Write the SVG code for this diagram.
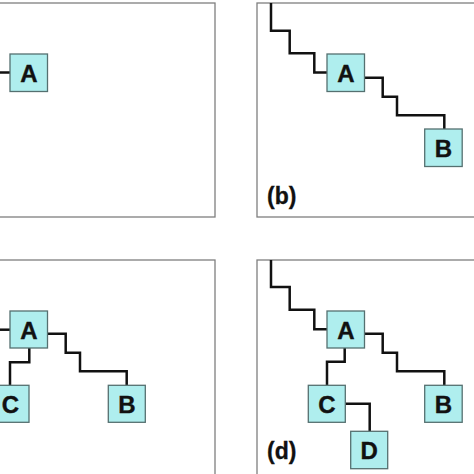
<svg xmlns="http://www.w3.org/2000/svg" width="474" height="474" viewBox="0 0 474 474">
<style>
.frame{fill:#ffffff;stroke:#7f7f7f;stroke-width:1.3}
.node rect{fill:#afeeee;stroke:#557070;stroke-width:1.3}
.node text{font-family:"Liberation Sans",Arial,sans-serif;font-weight:bold;font-size:24px;text-anchor:middle;fill:#111;stroke:#111;stroke-width:0.4}
.wire{fill:none;stroke:#111;stroke-width:2.5;stroke-linejoin:miter}
.lbl{font-family:"Liberation Sans",Arial,sans-serif;font-weight:bold;font-size:23px;fill:#111;stroke:#111;stroke-width:0.3}
</style>
<rect width="474" height="474" fill="#ffffff"/>
<g id="frames">
<rect class="frame" x="-60" y="3" width="275" height="214"/>
<rect class="frame" x="257" y="3" width="275" height="214"/>
<rect class="frame" x="-60" y="260" width="275" height="230"/>
<rect class="frame" x="257" y="260" width="275" height="230"/>
</g>
<g id="connectors">
<path class="wire" d="M0,72.5 H10"/>
<path class="wire" d="M271,3 V30.7 H289.7 V53.3 H314.3 V72.5 H327"/>
<path class="wire" d="M364.7,77.7 H382.7 V96.7 H397 V115.3 H444.3 V129"/>
<path class="wire" d="M0,329.7 H10"/>
<path class="wire" d="M47.7,333.7 H65.7 V352.7 H80 V371.3 H126.7 V385.3"/>
<path class="wire" d="M29.3,348 V362.3 H10 V385.3"/>
<path class="wire" d="M271,260 V287 H289.7 V309.7 H314.3 V329.3 H327"/>
<path class="wire" d="M364.7,333.7 H382.7 V352.7 H397 V371.3 H444.3 V385.3"/>
<path class="wire" d="M344.7,348 V361.7 H327 V385.3"/>
<path class="wire" d="M345.3,403.7 H369.7 V431.3"/>
</g>
<g id="a-A" class="node"><rect x="10" y="54" width="37.5" height="37.5"/><text x="28.8" y="81.8">A</text></g>
<g id="b-A" class="node"><rect x="327" y="54" width="37.5" height="37.5"/><text x="345.8" y="81.8">A</text></g>
<g id="b-B" class="node"><rect x="424.7" y="129" width="37.5" height="37.5"/><text x="443.5" y="156.8">B</text></g>
<g id="c-A" class="node"><rect x="10" y="311" width="37.5" height="37"/><text x="28.8" y="338.6">A</text></g>
<g id="c-C" class="node"><rect x="-8.5" y="385.3" width="37.5" height="37"/><text x="10.3" y="412.9">C</text></g>
<g id="c-B" class="node"><rect x="108.3" y="385.3" width="37" height="37"/><text x="126.8" y="412.9">B</text></g>
<g id="d-A" class="node"><rect x="327" y="311" width="37.5" height="37"/><text x="345.8" y="338.6">A</text></g>
<g id="d-B" class="node"><rect x="424.7" y="385.3" width="37.5" height="37"/><text x="443.5" y="412.9">B</text></g>
<g id="d-C" class="node"><rect x="308.3" y="385.3" width="37" height="37"/><text x="326.8" y="412.9">C</text></g>
<g id="d-D" class="node"><rect x="350.7" y="431.3" width="37" height="37.4"/><text x="369.2" y="459.1">D</text></g>
<g id="labels">
<text class="lbl" x="267" y="204">(b)</text>
<text class="lbl" x="267" y="459">(d)</text>
</g>
</svg>
